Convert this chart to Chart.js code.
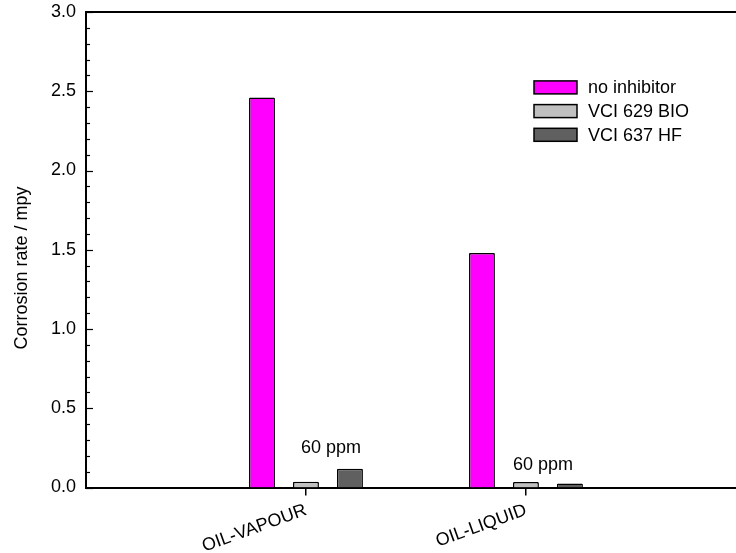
<!DOCTYPE html>
<html><head><meta charset="utf-8">
<script src="https://cdn.jsdelivr.net/npm/chart.js@4/dist/chart.umd.min.js"></script>
<style>html,body{margin:0;padding:0;background:#fff}#wrap{width:736px;height:553px;position:relative}</style>
</head><body><div id="wrap"><canvas id="c" width="736" height="553"></canvas></div>
<script>
const categories = ['OIL-VAPOUR', 'OIL-LIQUID'];
const seriesNames = ['no inhibitor', 'VCI 629 BIO', 'VCI 637 HF'];
const noInhibitor = [2.46, 1.48];
const vci629Bio = [0.037, 0.034];
const vci637Hf = [0.118, 0.025];
const yTicks = [0, 0.5, 1.0, 1.5, 2.0, 2.5, 3.0];
const yTitle = 'Corrosion rate / mpy';
const annotationLabels = ['60 ppm', '60 ppm'];

const FONT = '"Liberation Sans", Arial, sans-serif';
const colors = ['#ff00ff', '#c0c0c0', '#606060'];
const seriesValues = [noInhibitor, vci629Bio, vci637Hf];

const datasets = seriesValues.map((vals, s) => ({
  label: seriesNames[s],
  data: vals.map((v, i) => ({ x: i + 1, y: v })),
  backgroundColor: colors[s],
  borderColor: '#000',
  borderWidth: 1.5,
  borderRadius: 1,
  categoryPercentage: 0.6,
  barPercentage: 0.59
}));

const deco = {
  id: 'deco',
  afterDraw(chart) {
    const ctx = chart.ctx;
    const { left, right, top } = chart.chartArea;
    const xs = chart.scales.x, ys = chart.scales.y;
    ctx.save();
    ctx.strokeStyle = '#000';
    ctx.lineWidth = 2;
    ctx.beginPath(); ctx.moveTo(left, top); ctx.lineTo(right, top); ctx.stroke();
    ctx.lineWidth = 1.2;
    for (let i = 0; i <= 30; i++) {
      const y = Math.round(ys.getPixelForValue(i / 10)) + 0.5;
      const len = i % 5 === 0 ? 7 : 4;
      ctx.beginPath(); ctx.moveTo(left, y); ctx.lineTo(left + len, y); ctx.stroke();
    }
    ctx.fillStyle = '#000';
    ctx.font = '18px ' + FONT;
    ctx.save();
    ctx.translate(26.5, 268);
    ctx.rotate(-Math.PI / 2);
    ctx.textAlign = 'center';
    ctx.textBaseline = 'alphabetic';
    ctx.fillText(yTitle, 0, 0);
    ctx.restore();
    chart.data.datasets.forEach((ds, k) => {
      const cy = 87.4 + k * 23.7;
      ctx.fillStyle = ds.backgroundColor;
      ctx.fillRect(534, cy - 6.5, 43, 13);
      ctx.lineWidth = 1.5;
      ctx.strokeRect(534, cy - 6.5, 43, 13);
      ctx.fillStyle = '#000';
      ctx.textAlign = 'left';
      ctx.textBaseline = 'middle';
      ctx.fillText(ds.label, 588, cy + 1);
    });
    const ann = [{ dx: 25, v: 0.22 }, { dx: 17, v: 0.11 }];
    ctx.textAlign = 'center';
    ctx.textBaseline = 'alphabetic';
    annotationLabels.forEach((t, i) => {
      ctx.fillText(t, xs.getPixelForValue(i + 1) + ann[i].dx, ys.getPixelForValue(ann[i].v));
    });
    ctx.restore();
  }
};

new Chart(document.getElementById('c'), {
  type: 'bar',
  data: { datasets },
  options: {
    responsive: false,
    animation: false,
    devicePixelRatio: 1,
    layout: { padding: { top: 12, right: 0, left: 0, bottom: 0 } },
    plugins: { legend: { display: false }, tooltip: { enabled: false } },
    scales: {
      x: {
        type: 'linear',
        min: 0,
        max: 2.955,
        offset: false,
        afterBuildTicks: (s) => { s.ticks = categories.map((c, i) => ({ value: i + 1 })); },
        afterFit: (s) => { s.height = 65.5; s.paddingLeft = 0; s.paddingRight = 0; },
        ticks: {
          autoSkip: false,
          minRotation: 20,
          maxRotation: 20,
          padding: 4,
          color: '#000',
          font: { family: FONT, size: 18 },
          callback: (v) => categories[Math.round(v) - 1] || ''
        },
        grid: { display: true, offset: false, drawOnChartArea: false, drawTicks: true, tickLength: 8, color: '#000', lineWidth: 1.5 },
        border: { display: true, color: '#000', width: 2 }
      },
      y: {
        min: 0,
        max: 3,
        afterBuildTicks: (s) => { s.ticks = yTicks.map(v => ({ value: v })); },
        afterFit: (s) => { s.width = 86; s.paddingTop = 0; s.paddingBottom = 0; },
        ticks: {
          padding: 10,
          color: '#000',
          font: { family: FONT, size: 18 },
          callback: (v) => Number(v).toFixed(1)
        },
        grid: { display: false, drawTicks: false },
        border: { display: true, color: '#000', width: 2 }
      }
    }
  },
  plugins: [deco]
});
</script>
</body></html>
